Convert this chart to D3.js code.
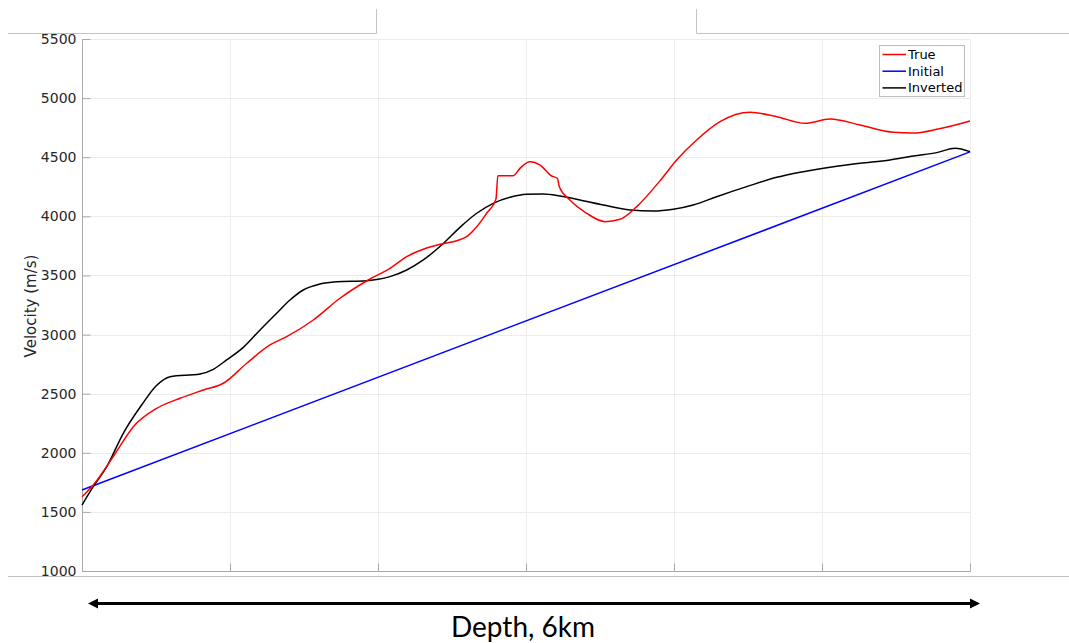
<!DOCTYPE html>
<html>
<head>
<meta charset="utf-8">
<script src="https://cdn.jsdelivr.net/npm/d3@7"></script>
<style>
  html, body { margin: 0; padding: 0; background: #fff; }
  svg { display: block; }
</style>
</head>
<body>
<svg id="chart" width="1069" height="643"></svg>
<script>
// Depth along the profile (km) and velocity (m/s) for each model
const trueDepth = [0, 0.076, 0.211, 0.347, 0.505, 0.662, 0.82, 0.955, 1.113, 1.27, 1.383, 1.563, 1.743, 1.946,
  2.081, 2.194, 2.306, 2.43, 2.532, 2.599, 2.667, 2.734, 2.797, 2.81, 2.914, 2.959, 3.027, 3.095, 3.174, 3.212,
  3.225, 3.297, 3.41, 3.534, 3.635, 3.748, 3.905, 4.018, 4.153, 4.311, 4.514, 4.694, 4.885, 5.054, 5.257,
  5.482, 5.617, 5.775, 6];
const trueVel = [1628, 1727, 1967, 2221, 2376, 2461, 2531, 2588, 2757, 2912, 2982, 3123, 3307, 3470,
  3560, 3659, 3721, 3766, 3794, 3828, 3912, 4026, 4144, 4344, 4344, 4406, 4462, 4434, 4341, 4322,
  4251, 4138, 4026, 3955, 3975, 4082, 4300, 4477, 4646, 4801, 4880, 4843, 4787, 4823, 4773,
  4711, 4705, 4736, 4807];

const initialDepth = [0, 6];
const initialVel = [1685, 4545];

const invDepth = [0, 0.076, 0.167, 0.279, 0.403, 0.5, 0.595, 0.797, 0.887, 0.977, 1.09, 1.203, 1.315, 1.405,
  1.495, 1.608, 1.721, 1.923, 2.002, 2.081, 2.194, 2.306, 2.43, 2.554, 2.667, 2.779, 2.892, 3.005, 3.117,
  3.23, 3.365, 3.522, 3.703, 3.86, 3.995, 4.13, 4.288, 4.491, 4.694, 4.874, 5.077, 5.257, 5.459, 5.617,
  5.775, 5.899, 6];
const invVel = [1558, 1713, 1882, 2165, 2404, 2565, 2644, 2666, 2706, 2785, 2892, 3039, 3180, 3292,
  3377, 3428, 3447, 3456, 3467, 3490, 3546, 3631, 3758, 3907, 4026, 4110, 4161, 4186, 4189,
  4172, 4138, 4096, 4054, 4045, 4060, 4096, 4166, 4251, 4330, 4378, 4420, 4449, 4477, 4511,
  4539, 4576, 4547];

const yTicks = [1000, 1500, 2000, 2500, 3000, 3500, 4000, 4500, 5000, 5500];
const xTicks = [0, 1, 2, 3, 4, 5, 6];

const seriesNames = ["True", "Initial", "Inverted"];
const seriesColors = ["#ff0000", "#0000ff", "#000000"];

const svg = d3.select("#chart");
const plotLeft = 82, plotRight = 970, plotTop = 39, plotBottom = 571;

const x = d3.scaleLinear().domain([0, 6]).range([plotLeft, plotRight]);
const y = d3.scaleLinear().domain([1000, 5500]).range([plotBottom, plotTop]);

// frame lines around the figure panel
const frame = svg.append("g").attr("stroke", "#c3c3c3").attr("stroke-width", 1).attr("fill", "none");
frame.append("path").attr("d", "M8,33.5H376.5V9");
frame.append("path").attr("d", "M696.5,9V33.5H1069");
frame.append("path").attr("d", "M8,576.5H1069");

// grid
const grid = svg.append("g").attr("stroke", "#ececec").attr("stroke-width", 1);
grid.selectAll(".gx").data(xTicks.slice(1)).join("line")
  .attr("x1", d => Math.round(x(d)) + 0.5).attr("x2", d => Math.round(x(d)) + 0.5)
  .attr("y1", plotTop).attr("y2", plotBottom);
grid.selectAll(".gy").data(yTicks.slice(1)).join("line")
  .attr("x1", plotLeft).attr("x2", plotRight)
  .attr("y1", d => Math.round(y(d)) + 0.5).attr("y2", d => Math.round(y(d)) + 0.5);

// y axis with inward ticks
const yAxis = d3.axisLeft(y).tickValues(yTicks).tickSize(-8).tickPadding(6).tickFormat(d3.format("d"));
const gy = svg.append("g").attr("transform", `translate(${plotLeft + 0.5},0)`).call(yAxis);
gy.select(".domain").attr("stroke", "#a8a8a8").attr("d", `M0,${plotBottom + 0.5}V${plotTop}`);
gy.selectAll(".tick line").attr("stroke", "#a8a8a8");
gy.selectAll(".tick text").attr("fill", "#262626").style("font-family", "DejaVu Sans, sans-serif").style("font-size", "14px");

// x axis: ticks only, no labels
const xAxis = d3.axisBottom(x).tickValues(xTicks).tickSize(-8).tickFormat("");
const gx = svg.append("g").attr("transform", `translate(0,${plotBottom + 0.5})`).call(xAxis);
gx.select(".domain").attr("stroke", "#a8a8a8").attr("d", `M${plotLeft},0H${plotRight + 0.5}`);
gx.selectAll(".tick line").attr("stroke", "#a8a8a8");

// y label
svg.append("text")
  .attr("transform", `translate(36,306) rotate(-90)`)
  .attr("text-anchor", "middle")
  .attr("fill", "#262626")
  .style("font-family", "DejaVu Sans, sans-serif")
  .style("font-size", "15px")
  .text("Velocity (m/s)");

// curves
const line = d3.line().x(d => x(d[0])).y(d => y(d[1])).curve(d3.curveMonotoneX);
const series = [
  d3.zip(trueDepth, trueVel),
  d3.zip(initialDepth, initialVel),
  d3.zip(invDepth, invVel)
];
const plot = svg.append("g");
// draw order: initial, inverted, true
[1, 2, 0].forEach(i => {
  plot.append("path")
    .datum(series[i])
    .attr("d", line)
    .attr("fill", "none")
    .attr("stroke", seriesColors[i])
    .attr("stroke-width", 1.5)
    .attr("stroke-linejoin", "round");
});

// legend
const lg = svg.append("g");
lg.append("rect").attr("x", 879.5).attr("y", 45.5).attr("width", 85).attr("height", 51)
  .attr("fill", "#fff").attr("stroke", "#bdbdbd");
seriesNames.forEach((name, i) => {
  const cy = 54.5 + i * 16.7;
  lg.append("line").attr("x1", 882.5).attr("x2", 906).attr("y1", cy).attr("y2", cy)
    .attr("stroke", seriesColors[i]).attr("stroke-width", 1.5);
  lg.append("text").attr("x", 908).attr("y", cy).attr("dy", "0.35em")
    .attr("fill", "#000")
    .style("font-family", "DejaVu Sans, sans-serif").style("font-size", "13px")
    .text(name);
});

// depth arrow beneath the axis
const arrowY = 603.5;
const ax0 = 88, ax1 = 980;
svg.append("line").attr("x1", ax0 + 6).attr("x2", ax1 - 6).attr("y1", arrowY).attr("y2", arrowY)
  .attr("stroke", "#000").attr("stroke-width", 3);
svg.append("path").attr("d", `M${ax0},${arrowY}L${ax0 + 10},${arrowY - 5}L${ax0 + 10},${arrowY + 5}Z`).attr("fill", "#000");
svg.append("path").attr("d", `M${ax1},${arrowY}L${ax1 - 10},${arrowY - 5}L${ax1 - 10},${arrowY + 5}Z`).attr("fill", "#000");

svg.append("text")
  .attr("x", 523).attr("y", 637)
  .attr("text-anchor", "middle")
  .attr("fill", "#000")
  .style("font-family", "Lato, sans-serif")
  .style("font-size", "28px")
  .text("Depth, 6km");
</script>
</body>
</html>
